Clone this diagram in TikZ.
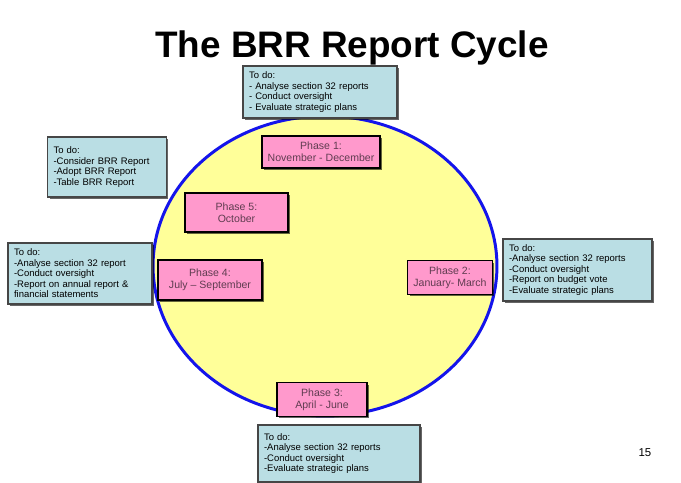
\documentclass[tikz,border=0pt]{standalone}
\usepackage{fontspec}
\setmainfont{Liberation Sans}
\usepackage{tikz}
\usetikzlibrary{shapes.geometric, shadows}

\definecolor{todoblue}{RGB}{186,222,228}
\definecolor{todoedge}{RGB}{70,70,70}
\definecolor{phasepink}{RGB}{255,153,204}
\definecolor{phasetext}{RGB}{95,60,80}
\definecolor{cyclefill}{RGB}{255,255,153}
\definecolor{cycleblue}{RGB}{20,20,235}

\tikzset{
  todo/.style={draw=todoedge, line width=1pt, fill=todoblue, align=left,
    inner xsep=0.12cm, font=\fontsize{5.4}{6}\selectfont,
    drop shadow={shadow xshift=0.04cm, shadow yshift=-0.04cm, fill=black, opacity=0.6}},
  phase/.style={draw=black, line width=1pt, fill=phasepink, align=center,
    text=phasetext, font=\fontsize{6}{7}\selectfont,
    drop shadow={shadow xshift=0.04cm, shadow yshift=-0.04cm, fill=black, opacity=0.6}}
}

\begin{document}
\begin{tikzpicture}[x=0.02cm, y=-0.02cm]
\useasboundingbox (0,0) rectangle (681,483);

\node[font=\fontsize{21}{25}\selectfont\bfseries] (title) at (352,48) {The BRR Report Cycle};

% the cycle
\node[ellipse, draw=cycleblue, line width=1.7pt, fill=cyclefill,
  minimum width=6.88cm, minimum height=6cm] (cycle) at (325,266) {};

% phases
\node[phase, minimum width=2.28cm, minimum height=0.64cm] (phase1) at (321,152) {Phase 1:\\November - December};
\node[phase, minimum width=1.68cm, minimum height=0.66cm] (phase2) at (450,277.5) {Phase 2:\\January- March};
\node[phase, minimum width=1.8cm, minimum height=0.62cm] (phase3) at (322,399.5) {Phase 3:\\April - June};
\node[phase, minimum width=2.08cm, minimum height=0.8cm] (phase4) at (210,280) {Phase 4:\\July -- September};
\node[phase, minimum width=2.06cm, minimum height=0.78cm] (phase5) at (236.5,212.5) {Phase 5:\\October};

% to do lists
\node[todo, text width=2.84cm, minimum height=1.04cm] (todo1) at (320,92)
  {To do:\\- Analyse section 32 reports\\- Conduct oversight\\- Evaluate strategic plans};
\node[todo, text width=2.74cm, minimum height=1.2cm] (todo2) at (577.5,270)
  {To do:\\-Analyse section 32 reports\\-Conduct oversight\\-Report on budget vote\\-Evaluate strategic plans};
\node[todo, text width=3cm, minimum height=1.14cm] (todo3) at (339,453.5)
  {To do:\\-Analyse section 32 reports\\-Conduct oversight\\-Evaluate strategic plans};
\node[todo, text width=2.64cm, minimum height=1.18cm] (todo4) at (80,273.5)
  {To do:\\-Analyse section 32 report\\-Conduct oversight\\-Report on annual report \&\\financial statements};
\node[todo, text width=2.14cm, minimum height=1.2cm] (todo5) at (107,167)
  {To do:\\-Consider BRR Report\\-Adopt BRR Report\\-Table BRR Report};

\node[font=\fontsize{6.5}{7}\selectfont] (page) at (645,453) {15};
\end{tikzpicture}
\end{document}
